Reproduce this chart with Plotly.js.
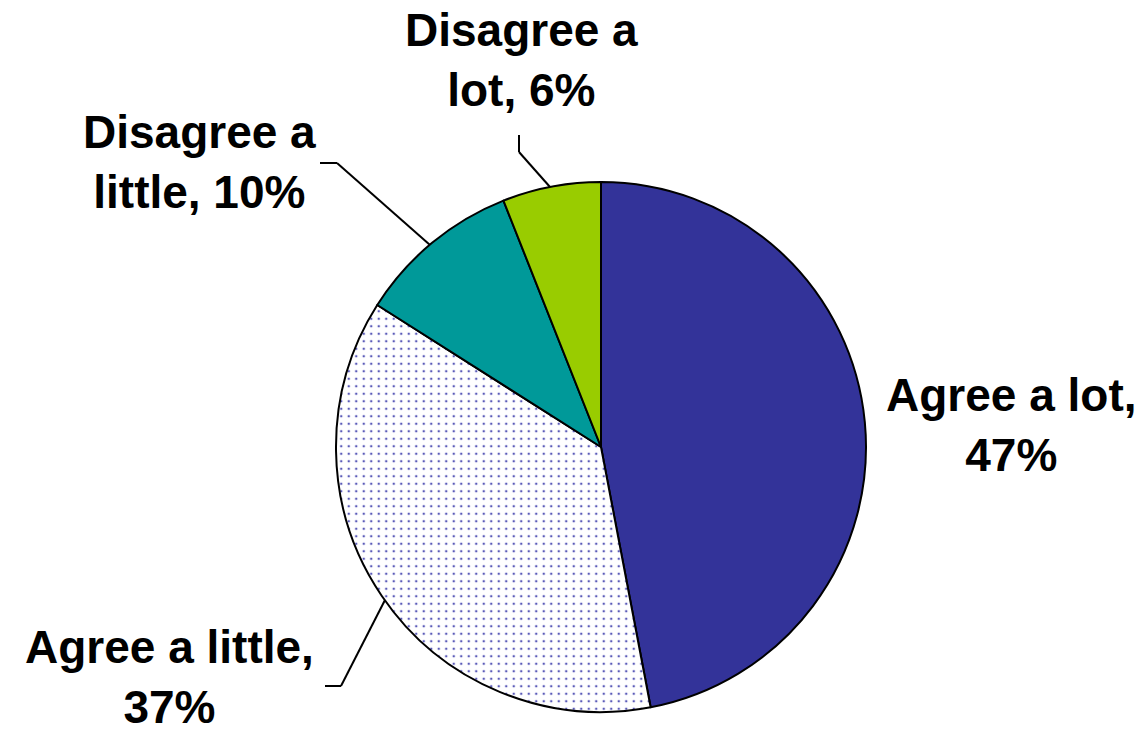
<!DOCTYPE html>
<html>
<head>
<meta charset="utf-8">
<script src="https://cdn.plot.ly/plotly-3.0.1.min.js"></script>
<style>html,body{margin:0;padding:0;background:#fff;}#chart{width:1144px;height:735px;}</style>
</head>
<body>
<div id="chart"></div>
<script>
const categories = ["Agree a lot", "Agree a little", "Disagree a little", "Disagree a lot"];
const values = [47, 37, 10, 6];
const labelText = ["Agree a lot,<br>47%", "Agree a little,<br>37%", "Disagree a<br>little, 10%", "Disagree a<br>lot, 6%"];
const colors = ["#333399", "#ffffff", "#009999", "#99cc00"];

const W = 1144, H = 735;
const px = x => x / W;
const py = y => 1 - y / H;

// label anchor positions (pixels)
const labelPos = [[1011, 425], [169, 677], [199, 162], [521, 60]];
// leader polylines (pixels)
const leaders = [
  null,
  [[385, 600], [341, 686], [325, 686]],
  [[430, 245], [337, 163], [320, 163]],
  [[550, 187], [519, 152], [519, 135]]
];

const trace = {
  type: "pie",
  labels: categories,
  values: values,
  sort: false,
  direction: "clockwise",
  rotation: 0,
  textinfo: "none",
  hoverinfo: "none",
  showlegend: false,
  domain: {x: [336 / W, 866 / W], y: [py(712), py(182)]},
  marker: {
    colors: colors,
    line: {color: "#000000", width: 2},
    pattern: {
      shape: ["", ".", "", ""],
      fgcolor: "#5a5ab8",
      bgcolor: "#ffffff",
      size: 7.5,
      solidity: 0.09,
      fillmode: "replace"
    }
  }
};

const annotations = labelText.map((t, i) => ({
  xref: "paper", yref: "paper",
  x: px(labelPos[i][0]), y: py(labelPos[i][1]),
  xanchor: "center", yanchor: "middle",
  text: "<b>" + t + "</b>",
  showarrow: false,
  align: "center",
  font: {family: "Liberation Sans, Arial, sans-serif", size: 46, color: "#000000"}
}));

const shapes = [];
leaders.forEach(l => {
  if (!l) return;
  for (let k = 0; k < l.length - 1; k++) {
    shapes.push({
      type: "line", xref: "paper", yref: "paper",
      x0: px(l[k][0]), y0: py(l[k][1]), x1: px(l[k + 1][0]), y1: py(l[k + 1][1]),
      line: {color: "#000000", width: 2}
    });
  }
});

const layout = {
  width: W, height: H,
  margin: {l: 0, r: 0, t: 0, b: 0},
  paper_bgcolor: "#ffffff",
  plot_bgcolor: "#ffffff",
  annotations: annotations,
  shapes: shapes
};

Plotly.newPlot("chart", [trace], layout, {displayModeBar: false, staticPlot: true});
</script>
</body>
</html>
